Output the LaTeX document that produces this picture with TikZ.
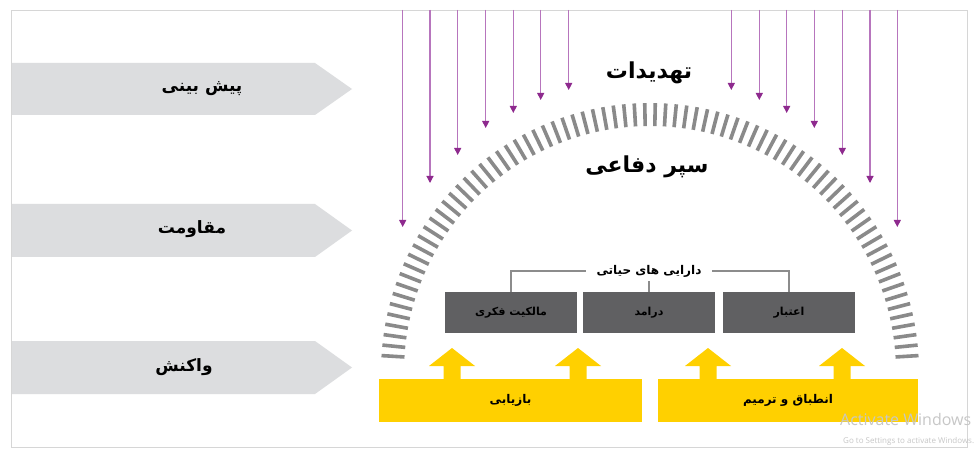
\documentclass[tikz,border=0pt]{standalone}
\usepackage{fontspec}
\setmainfont{DejaVu Sans}
\newfontfamily\fa[Script=Arabic]{DejaVu Sans}
\newfontfamily\wmfont{Open Sans}
\TeXXeTstate=1
\usetikzlibrary{arrows.meta}
\definecolor{chev}{HTML}{DCDDDF}
\definecolor{frame}{HTML}{D6D6D6}
\definecolor{stripe}{HTML}{8A8A8A}
\definecolor{purL}{HTML}{B775BD}
\definecolor{purD}{HTML}{8E2A8E}
\definecolor{darkbox}{HTML}{606062}
\definecolor{brkc}{HTML}{8C8C8C}
\definecolor{yel}{HTML}{FFD000}
\tikzset{
  chevlbl/.style={font=\fa\bfseries\fontsize{17}{20}\selectfont, text=black, inner sep=0pt},
  titlelbl/.style={font=\fa\bfseries\fontsize{22}{26}\selectfont, text=black, inner sep=0pt},
  asset/.style={fill=darkbox, draw=none, minimum width=132pt, minimum height=41pt, inner sep=0pt,
    font=\fa\bfseries\fontsize{11}{13}\selectfont, text=black},
  ybar/.style={fill=yel, draw=none, minimum height=43pt, inner sep=0pt,
    font=\fa\bfseries\fontsize{12}{14}\selectfont, text=black},
  brk/.style={draw=brkc, line width=1.6pt},
  threat/.style={draw=purL, line width=1.1pt, -{Triangle[width=7pt,length=7pt,color=purD]}},
  shieldstripe/.style={draw=stripe, line width=3.6pt},
  wmark/.style={anchor=west, text=black!22, inner sep=0pt},
}
\begin{document}
\begin{tikzpicture}[x=1pt,y=-1pt]
\useasboundingbox (0,0) rectangle (980,449);
\fill[white] (0,0) rectangle (980,449);
% frame
\draw[frame, line width=0.8pt] (11,10) rectangle (967,447);

% left chevrons
\fill[chev] (12,63) -- (315,63) -- (352,89) -- (315,115) -- (12,115) -- cycle;
\fill[chev] (12,204) -- (315,204) -- (352,230.5) -- (315,257) -- (12,257) -- cycle;
\fill[chev] (12,341) -- (315,341) -- (352,367.5) -- (315,394) -- (12,394) -- cycle;
\node[chevlbl] (c1) at (202,89) {\beginR پیش بینی\endR};
\node[chevlbl] (c2) at (192,229) {\beginR مقاومت\endR};
\node[chevlbl] (c3) at (184,367) {\beginR واکنش\endR};

% shield stripes
\foreach \i in {0,...,77} {
  \pgfmathsetmacro\ang{3.5+\i*173/77}
  \draw[shieldstripe] ({650+246*cos(\ang)},{372-246*sin(\ang)}) -- ({650+269*cos(\ang)},{372-269*sin(\ang)});
}

% threat arrows
\foreach \xx/\yy [count=\k] in {402.7/227, 430/183, 457.7/155, 485.7/128, 513.3/113, 540.7/100, 568.7/90,
                     731.3/90, 759.3/100, 786.7/113, 814.3/128, 842.3/155, 870/183, 897.3/227} {
  \coordinate (ts\k) at (\xx,10);
  \coordinate (te\k) at (\xx,\yy);
  \draw[threat] (ts\k) -- (te\k);
}

\node[titlelbl] (threats) at (649,73) {\beginR تهدیدات\endR};
\node[titlelbl] (shield) at (647,167) {\beginR سپر دفاعی\endR};

% assets
\node[asset] (box1) at (511,312.5) {\beginR مالکیت فکری\endR};
\node[asset] (box2) at (649,312.5) {\beginR درامد\endR};
\node[asset] (box3) at (789,312.5) {\beginR اعتبار\endR};
\node[font=\fa\bfseries\fontsize{12}{14}\selectfont, inner xsep=10pt, inner ysep=2pt] (assets) at (649,271) {\beginR دارایی های حیاتی\endR};
\draw[brk] (box1.north) |- (assets.west);
\draw[brk] (box3.north) |- (assets.east);
\coordinate (tick) at (649,281);
\draw[brk] (box2.north) -- (tick);

% yellow bars and arrows
\foreach \cx in {452,578,708,842} {
  \fill[yel] (\cx-8.5,381) -- (\cx-8.5,366) -- (\cx-23,366) -- (\cx,348) -- (\cx+23,366) -- (\cx+8.5,366) -- (\cx+8.5,381) -- cycle;
}
\node[ybar, minimum width=263pt] (bar1) at (510.5,400.5) {\beginR بازیابی\endR};
\node[ybar, minimum width=260pt] (bar2) at (788,400.5) {\beginR انطباق و ترمیم\endR};

% watermark
\node[wmark, font=\wmfont\fontsize{16}{18}\selectfont] (wm1) at (840,419) {Activate Windows};
\node[wmark, font=\wmfont\fontsize{8}{10}\selectfont] (wm2) at (843,441) {Go to Settings to activate Windows.};
\end{tikzpicture}
\end{document}
